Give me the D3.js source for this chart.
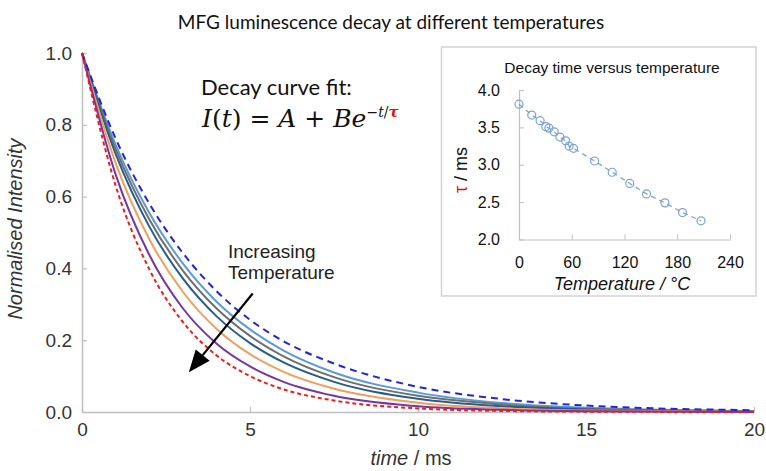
<!DOCTYPE html>
<html>
<head>
<meta charset="utf-8">
<script src="https://cdn.jsdelivr.net/npm/d3@7.9.0/dist/d3.min.js"></script>
<style>
  body { margin: 0; background: #fff; }
  svg { display: block; }
</style>
</head>
<body>
<svg id="chart" width="766" height="471"></svg>
<script>
// ---- data ----
const timeMs = [0, 1, 2, 3, 4, 5, 6, 7.5, 10, 12.5, 15, 20];

// one array per temperature, coolest (slowest decay) first
const decayBlueDashed = [1, 0.762, 0.581, 0.443, 0.337, 0.257, 0.197, 0.135, 0.070, 0.036, 0.018, 0.005];
const decayLightBlue  = [1, 0.745, 0.555, 0.414, 0.308, 0.230, 0.171, 0.110, 0.054, 0.025, 0.012, 0.003];
const decayGrey       = [1, 0.733, 0.537, 0.394, 0.289, 0.212, 0.155, 0.097, 0.045, 0.021, 0.009, 0.002];
const decayDarkBlue   = [1, 0.719, 0.517, 0.372, 0.267, 0.192, 0.138, 0.084, 0.037, 0.016, 0.007, 0.001];
const decayOrange     = [1, 0.694, 0.482, 0.335, 0.232, 0.161, 0.112, 0.065, 0.026, 0.010, 0.004, 0.001];
const decayPurple     = [1, 0.662, 0.438, 0.289, 0.191, 0.127, 0.084, 0.045, 0.016, 0.006, 0.002, 0];
const decayRedDashed  = [1, 0.631, 0.398, 0.251, 0.158, 0.100, 0.063, 0.032, 0.010, 0.003, 0.001, 0];

const xTicks = [0, 5, 10, 15, 20];
const yTicks = [0, 0.2, 0.4, 0.6, 0.8, 1.0];

// inset: decay time vs temperature
const insetTemp = [0, 14.5, 24, 30.5, 34, 40, 46.5, 53, 57, 62, 86, 106, 126, 145, 166, 186, 207];
const insetTau  = [3.81, 3.665, 3.59, 3.51, 3.49, 3.44, 3.37, 3.32, 3.25, 3.22, 3.05, 2.90, 2.75, 2.61, 2.49, 2.36, 2.25];
const insetXTicks = [0, 60, 120, 180, 240];
const insetYTicks = [2.0, 2.5, 3.0, 3.5, 4.0];

const series = [
  { name: "T1", values: decayLightBlue, color: "#5b9bd5", dash: null },
  { name: "T2", values: decayGrey,      color: "#6f6f6f", dash: null },
  { name: "T3", values: decayDarkBlue,  color: "#275d8e", dash: null },
  { name: "T4", values: decayOrange,    color: "#f09f5c", dash: null },
  { name: "T5", values: decayPurple,    color: "#7536a3", dash: null },
  { name: "T0", values: decayBlueDashed, color: "#2424d8", dash: "7,5" },
  { name: "T6", values: decayRedDashed,  color: "#f01c1c", dash: "4,3" }
];

const svg = d3.select("#chart");
const axisColor = "#bfbfbf";
const labelColor = "#333";
const sans = "'Liberation Sans', Arial, sans-serif";
const calibriLike = "Lato, 'Open Sans', sans-serif";

// ---- main plot ----
const x = d3.scaleLinear().domain([0, 20]).range([82, 754]);
const y = d3.scaleLinear().domain([0, 1]).range([412, 53]);

const xAxis = svg.append("g")
  .attr("transform", `translate(0,${y(0)})`)
  .call(d3.axisBottom(x).tickValues(xTicks).tickFormat(d3.format("d"))
    .tickSizeInner(-5).tickSizeOuter(0).tickPadding(11));
const yAxis = svg.append("g")
  .attr("transform", `translate(${x(0)},0)`)
  .call(d3.axisLeft(y).tickValues(yTicks).tickFormat(d3.format(".1f"))
    .tickSizeInner(-5).tickSizeOuter(0).tickPadding(10));

[xAxis, yAxis].forEach(a => {
  a.select(".domain").attr("stroke", axisColor).attr("stroke-width", 1.5);
  a.selectAll(".tick line").attr("stroke", axisColor).attr("stroke-width", 1.2);
  a.selectAll(".tick text").attr("fill", labelColor)
    .style("font-family", sans).style("font-size", "19px");
});

const line = d3.line()
  .x((d, i) => x(timeMs[i]))
  .y(d => y(d))
  .curve(d3.curveMonotoneX);

svg.append("g").selectAll("path")
  .data(series)
  .join("path")
  .attr("fill", "none")
  .attr("stroke", d => d.color)
  .attr("stroke-width", 2)
  .attr("stroke-dasharray", d => d.dash)
  .attr("d", d => line(d.values));

// titles
svg.append("text")
  .attr("x", 391).attr("y", 29)
  .attr("text-anchor", "middle")
  .style("font-family", calibriLike).style("font-size", "19px")
  .attr("fill", "#111")
  .text("MFG luminescence decay at different temperatures");

svg.append("text")
  .attr("transform", `translate(22,229) rotate(-90)`)
  .attr("text-anchor", "middle")
  .style("font-family", sans).style("font-size", "20px").style("font-style", "italic")
  .attr("fill", labelColor)
  .text("Normalised Intensity");

const xl = svg.append("text")
  .attr("x", 411).attr("y", 465)
  .attr("text-anchor", "middle")
  .style("font-family", sans).style("font-size", "20px")
  .attr("fill", labelColor);
xl.append("tspan").style("font-style", "italic").text("time");
xl.append("tspan").text(" / ms");

// fit equation
svg.append("text")
  .attr("x", 201).attr("y", 95)
  .style("font-family", calibriLike).style("font-size", "22px")
  .attr("fill", "#111")
  .text("Decay curve fit:");

const eq = svg.append("text")
  .attr("x", 202).attr("y", 127)
  .style("font-family", "'DejaVu Serif', serif").style("font-size", "25px")
  .attr("fill", "#111");
eq.append("tspan").style("font-style", "italic").text("I");
eq.append("tspan").text("(");
eq.append("tspan").style("font-style", "italic").text("t");
eq.append("tspan").text(") = ");
eq.append("tspan").style("font-style", "italic").text("A");
eq.append("tspan").text(" + ");
eq.append("tspan").style("font-style", "italic").text("Be");
eq.append("tspan").attr("dy", -10).style("font-size", "14px").text("−");
eq.append("tspan").style("font-size", "14px").style("font-style", "italic").text("t");
eq.append("tspan").style("font-size", "14px").text("/");
eq.append("tspan").style("font-size", "15px").style("font-style", "italic").style("font-weight", "bold")
  .attr("fill", "#e01010").text("τ");

// increasing temperature annotation
const note = svg.append("text")
  .style("font-family", sans).style("font-size", "19px").attr("fill", "#222");
note.append("tspan").attr("x", 228).attr("y", 258).text("Increasing");
note.append("tspan").attr("x", 228).attr("y", 279).text("Temperature");

const arrowFrom = [5.08, 0.33], arrowTo = [3.18, 0.111];
const ax0 = x(arrowFrom[0]), ay0 = y(arrowFrom[1]);
const ax1 = x(arrowTo[0]), ay1 = y(arrowTo[1]);
const ang = Math.atan2(ay1 - ay0, ax1 - ax0);
const headLen = 22, headHalf = 9;
const bx = ax1 - headLen * Math.cos(ang), by = ay1 - headLen * Math.sin(ang);
svg.append("line")
  .attr("x1", ax0).attr("y1", ay0).attr("x2", bx).attr("y2", by)
  .attr("stroke", "#000").attr("stroke-width", 2.2);
svg.append("path")
  .attr("d", `M${ax1},${ay1}L${bx + headHalf * Math.sin(ang)},${by - headHalf * Math.cos(ang)}L${bx - headHalf * Math.sin(ang)},${by + headHalf * Math.cos(ang)}Z`)
  .attr("fill", "#000");

// ---- inset ----
svg.append("rect")
  .attr("x", 441.5).attr("y", 47).attr("width", 314.5).attr("height", 249)
  .attr("fill", "#fff").attr("stroke", "#d3d3d3").attr("stroke-width", 1.5);

const ix = d3.scaleLinear().domain([0, 240]).range([519, 730]);
const iy = d3.scaleLinear().domain([2, 4]).range([239.5, 90]);

const ixAxis = svg.append("g")
  .attr("transform", `translate(0,${iy(2)})`)
  .call(d3.axisBottom(ix).tickValues(insetXTicks).tickFormat(d3.format("d"))
    .tickSizeInner(-5).tickSizeOuter(0).tickPadding(17));
const iyAxis = svg.append("g")
  .attr("transform", `translate(${ix(0)},0)`)
  .call(d3.axisLeft(iy).tickValues(insetYTicks).tickFormat(d3.format(".1f"))
    .tickSizeInner(-5).tickSizeOuter(0).tickPadding(19));
[ixAxis, iyAxis].forEach(a => {
  a.select(".domain").attr("stroke", axisColor).attr("stroke-width", 1.2);
  a.selectAll(".tick line").attr("stroke", axisColor);
  a.selectAll(".tick text").attr("fill", "#111")
    .style("font-family", sans).style("font-size", "16px");
});

svg.append("text")
  .attr("x", 612).attr("y", 73)
  .attr("text-anchor", "middle")
  .style("font-family", sans).style("font-size", "15.5px")
  .attr("fill", "#111")
  .text("Decay time versus temperature");

svg.append("text")
  .attr("x", 622).attr("y", 290)
  .attr("text-anchor", "middle")
  .style("font-family", sans).style("font-size", "18px").style("font-style", "italic")
  .attr("fill", "#111")
  .text("Temperature / °C");

const tl = svg.append("text")
  .attr("transform", `translate(467,170) rotate(-90)`)
  .attr("text-anchor", "middle")
  .style("font-family", sans).style("font-size", "18px")
  .attr("fill", "#111");
tl.append("tspan").attr("fill", "#e01010").text("τ");
tl.append("tspan").text(" / ms");

const tauLine = d3.line()
  .x((d, i) => ix(insetTemp[i]))
  .y(d => iy(d));
svg.append("path")
  .attr("d", tauLine(insetTau))
  .attr("fill", "none")
  .attr("stroke", "#7ba2d6").attr("stroke-width", 1.3)
  .attr("stroke-dasharray", "5,4");

svg.append("g").selectAll("circle")
  .data(insetTau)
  .join("circle")
  .attr("cx", (d, i) => ix(insetTemp[i]))
  .attr("cy", d => iy(d))
  .attr("r", 4)
  .attr("fill", "none")
  .attr("stroke", "#7ba2d6").attr("stroke-width", 1.2);
</script>
</body>
</html>
